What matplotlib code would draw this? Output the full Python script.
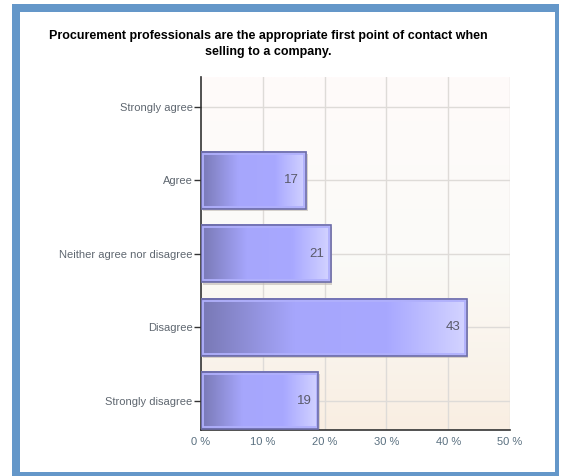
import matplotlib.pyplot as plt
import matplotlib.patches as mpatches
import numpy as np
from matplotlib.colors import LinearSegmentedColormap

plt.rcParams['font.family'] = ['Liberation Sans', 'DejaVu Sans']

title = "Procurement professionals are the appropriate first point of contact when\nselling to a company."
categories = ['Strongly agree', 'Agree', 'Neither agree nor disagree', 'Disagree', 'Strongly disagree']
values = [0, 17, 21, 43, 19]
xticks = [0, 10, 20, 30, 40, 50]

W, H = 563, 476
fig = plt.figure(figsize=(W / 100, H / 100), dpi=100)

# blue frame around the panel
def px_rect(x0, y0, x1, y1, color):
    fig.patches.append(mpatches.Rectangle((x0 / W, 1 - y1 / H), (x1 - x0) / W, (y1 - y0) / H,
                                          transform=fig.transFigure, color=color, zorder=-5, lw=0))

px_rect(12, 4, 559, 476, '#6497c9')
px_rect(20, 12, 555, 472, 'white')

ax = fig.add_axes([201 / W, 1 - 430 / H, (510 - 201) / W, (430 - 77) / H])
ax.set_zorder(2)

# panel background: pale pink at the top fading into beige at the bottom
bg = LinearSegmentedColormap.from_list('bg', ['#fffafa', '#fbfbf8', '#f9eee2'])
ax.imshow(np.linspace(0, 1, 256).reshape(-1, 1), cmap=bg, aspect='auto',
          extent=[0, 1, 0, 1], transform=ax.transAxes, zorder=0)

ypos = np.arange(len(categories))

for x in xticks[1:]:
    ax.axvline(x, color='#dedbd8', lw=1, zorder=1)
for y in ypos:
    ax.axhline(y, color='#dedbd8', lw=1, zorder=1)

bar_cmap = LinearSegmentedColormap.from_list(
    'bar', [(0, '#7878b4'), (0.35, '#a6a6fc'), (0.7, '#a8a8ff'), (1, '#d4d4ff')])
grad = np.linspace(0, 1, 256).reshape(1, -1)
h = 0.78
for y, v in zip(ypos, values):
    if v == 0:
        continue
    # drop shadow
    ax.add_patch(mpatches.Rectangle((0.25, y - h / 2 + 0.03), v, h, color='#bdb6b0',
                                    alpha=0.6, lw=0, zorder=2))
    ax.imshow(grad, cmap=bar_cmap, aspect='auto', extent=[0, v, y + h / 2, y - h / 2], zorder=3)
    ax.add_patch(mpatches.Rectangle((0.3, y - h / 2 + 0.03), v - 0.6, h - 0.06, fill=False,
                                    edgecolor='#b0b0fc', lw=1.3, zorder=4))
    ax.add_patch(mpatches.Rectangle((0, y - h / 2), v, h, fill=False,
                                    edgecolor='#6c6ca8', lw=1.2, zorder=5))
    ax.text(v - 1.1, y, str(v), ha='right', va='center', color='#5a5a6a', fontsize=9.5, zorder=6)

ax.set_xlim(0, 50)
ax.set_ylim(len(categories) - 0.6, -0.41)
ax.set_yticks(ypos)
ax.set_yticklabels(categories, color='#5f6770', fontsize=8)
ax.set_xticks(xticks)
ax.set_xticklabels([f'{x} %' for x in xticks], color='#5a7080', fontsize=8)
ax.tick_params(axis='y', length=5, width=1, color='#333333', pad=1)
ax.tick_params(axis='x', length=0, pad=5)
for s in ['top', 'right']:
    ax.spines[s].set_visible(False)
for s in ['left', 'bottom']:
    ax.spines[s].set_color('#333333')
    ax.spines[s].set_linewidth(1.2)

fig.text(268 / W, 1 - 44 / H, title, ha='center', va='center', fontsize=9,
         fontweight='bold', color='black', linespacing=1.4)

fig.savefig('out.png', dpi=100)
